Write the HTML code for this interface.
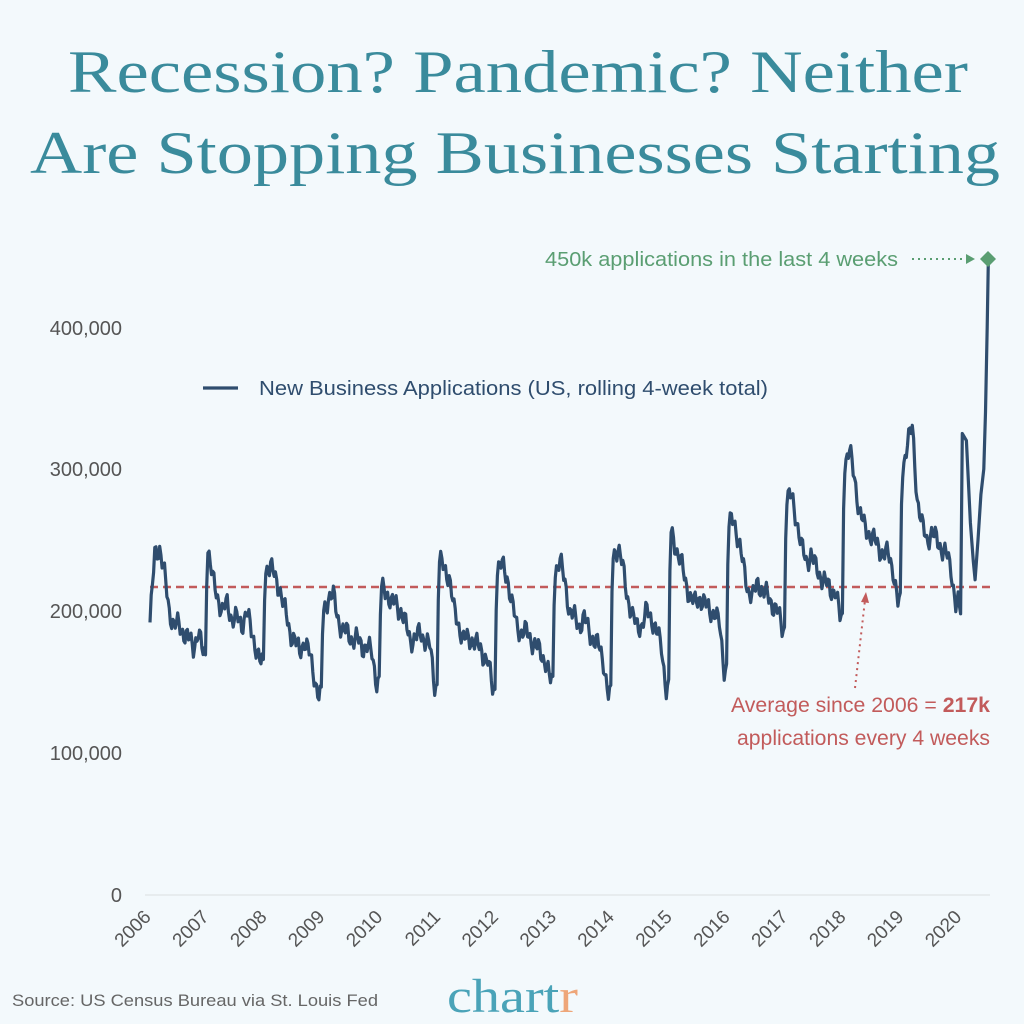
<!DOCTYPE html>
<html><head><meta charset="utf-8"><style>
html,body{margin:0;padding:0;background:#f3f9fc;}
svg{display:block}
</style></head><body>
<svg id="s" width="1024" height="1024" viewBox="0 0 1024 1024" xmlns="http://www.w3.org/2000/svg">
<rect width="1024" height="1024" fill="#f3f9fc"/>
<g font-family="'Liberation Serif', serif" fill="#3a8b9c" font-size="60" text-anchor="middle">
<text x="518" y="92" textLength="900" lengthAdjust="spacingAndGlyphs">Recession? Pandemic? Neither</text>
<text x="515" y="173" textLength="970" lengthAdjust="spacingAndGlyphs">Are Stopping Businesses Starting</text>
</g>
<line x1="145" y1="895" x2="990" y2="895" stroke="#e3e8ea" stroke-width="1.5"/>
<g font-family="'Liberation Sans', sans-serif" font-size="20" fill="#555" text-anchor="end">
<text x="122" y="902">0</text>
<text x="122" y="760">100,000</text>
<text x="122" y="618">200,000</text>
<text x="122" y="476">300,000</text>
<text x="122" y="335">400,000</text>
</g>
<g id="years" font-family="'Liberation Sans', sans-serif" font-size="19" fill="#555" text-anchor="end"></g>
<line x1="150" y1="587" x2="990" y2="587" stroke="#c25b5b" stroke-width="2.5" stroke-dasharray="8,5"/>
<polyline id="series" fill="none" stroke="#2f4d6e" stroke-width="3.2" stroke-linejoin="round" points=""/>
<line x1="203" y1="388" x2="238" y2="388" stroke="#2f4d6e" stroke-width="3.2"/>
<text x="259" y="395" font-family="'Liberation Sans', sans-serif" font-size="20" fill="#2f4d6e" textLength="509" lengthAdjust="spacingAndGlyphs">New Business Applications (US, rolling 4-week total)</text>
<text x="545" y="266" font-family="'Liberation Sans', sans-serif" font-size="20" fill="#5a9e72" textLength="353" lengthAdjust="spacingAndGlyphs">450k applications in the last 4 weeks</text>
<line x1="912" y1="259" x2="966" y2="259" stroke="#5a9e72" stroke-width="2" stroke-dasharray="2,4"/>
<polygon points="966,254 975,259 966,264" fill="#5a9e72"/>
<polygon points="988,251 996,259 988,267 980,259" fill="#5a9e72"/>
<line x1="855" y1="688" x2="865" y2="600" stroke="#c25b5b" stroke-width="2" stroke-dasharray="2,4"/>
<polygon points="861,602 866,592 869,603" fill="#c25b5b"/>
<g font-family="'Liberation Sans', sans-serif" font-size="21" fill="#c25b5b">
<text x="731" y="712" textLength="259" lengthAdjust="spacingAndGlyphs">Average since 2006 = <tspan font-weight="bold">217k</tspan></text>
<text x="737" y="745" textLength="253" lengthAdjust="spacingAndGlyphs">applications every 4 weeks</text>
</g>
<text x="12" y="1006" font-family="'Liberation Sans', sans-serif" font-size="17" fill="#666" textLength="366" lengthAdjust="spacingAndGlyphs">Source: US Census Bureau via St. Louis Fed</text>
<text x="447" y="1012" font-family="'Liberation Serif', serif" font-size="48" fill="#4aa3b8" textLength="131" lengthAdjust="spacingAndGlyphs">chart<tspan fill="#eea679">r</tspan></text>
</svg>
<script>
var X=function(t){return 150+t*57.9}, Y=function(v){return 895-v*1.42};
var d={
2006:[192,240,245,225,200,190,190,185,180,175,185,170],
2007:[245,222,210,200,205,195,195,190,200,185,175,162],
2008:[230,232,222,215,200,185,180,170,180,170,155,140],
2009:[200,210,210,195,185,185,180,180,175,175,170,150],
2010:[215,215,205,205,200,190,180,180,185,180,175,148],
2011:[235,230,225,200,190,180,180,180,175,170,165,145],
2012:[230,232,225,205,190,185,185,180,175,170,165,150],
2013:[230,235,220,200,195,190,195,185,180,175,165,140],
2014:[240,245,230,210,195,190,190,200,195,185,175,145],
2015:[255,245,235,220,210,205,210,205,200,200,190,160],
2016:[260,265,250,230,215,210,220,215,210,205,200,188],
2017:[280,280,265,245,235,240,230,225,220,215,215,195],
2018:[305,312,295,270,260,255,250,245,240,240,230,205],
2019:[300,320,328,280,260,250,255,250,245,240,230,205]};
var pts=[],k=0;
for(var y=2006;y<=2019;y++){var a=d[y];for(var m=0;m<12;m++){var v0=a[m],v1=(m<11?a[m+1]:(y<2019?d[y+1][0]:200));
for(var w=0;w<4;w++){var f=w/4;var v=v0+(v1-v0)*(m==11?(w<3?0:f):f);v+=Math.sin(k*1.7)*5+Math.sin(k*0.63)*4;k++;
pts.push(X(y-2006+(m+w/4)/12).toFixed(1)+','+Y(v).toFixed(1));}}}
var e=[[0.0,198],[0.03,325],[0.1,320],[0.17,262],[0.22,235],[0.25,222],[0.3,250],[0.35,282],[0.4,300],[0.43,340],[0.46,400],[0.48,450]];
e.forEach(function(p){pts.push(X(14+p[0]).toFixed(1)+','+Y(p[1]).toFixed(1));});
document.getElementById('series').setAttribute('points',pts.join(' '));
var g=document.getElementById('years'),h='';
for(var i=0;i<15;i++){var x=X(i)+2;h+='<text transform="translate('+x+',918) rotate(-45)">'+(2006+i)+'</text>';}
g.innerHTML=h;
</script>
</body></html>
